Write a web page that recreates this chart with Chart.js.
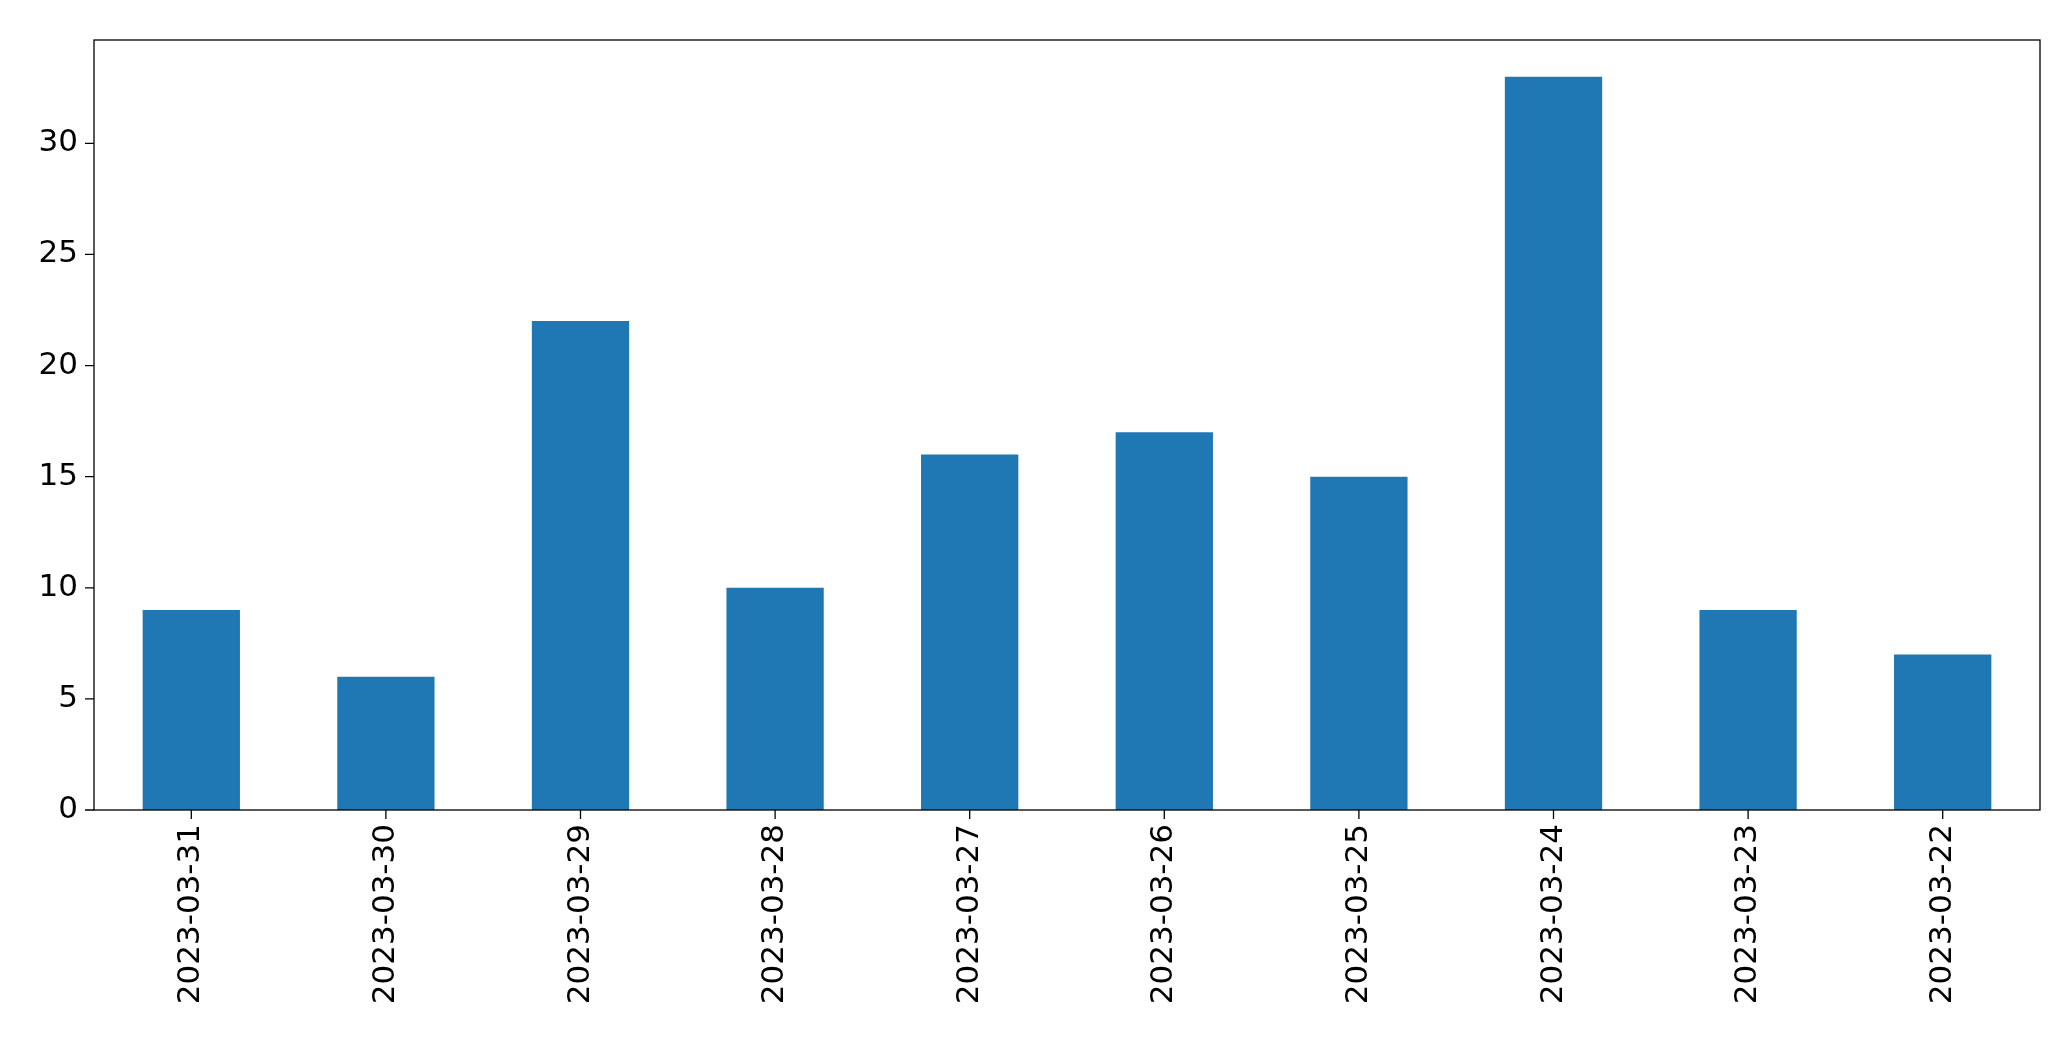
<!DOCTYPE html><html><head><script src="https://cdn.jsdelivr.net/npm/chart.js@4"></script>
<style>html,body{margin:0;background:#fff}#w{width:2071px;height:1061px}</style></head><body><div id="w"><canvas id="c"></canvas></div>
<script>
const categories=["2023-03-31","2023-03-30","2023-03-29","2023-03-28","2023-03-27","2023-03-26","2023-03-25","2023-03-24","2023-03-23","2023-03-22"];
const values=[9,6,22,10,16,17,15,33,9,7];
const yTicks=[0,5,10,15,20,25,30];
const border={id:'b',afterDraw(c){const a=c.chartArea,x=c.ctx;x.save();x.strokeStyle='#000';x.lineWidth=1.3;x.strokeRect(a.left,a.top,a.right-a.left,a.bottom-a.top);x.restore();}};
new Chart(document.getElementById('c'),{type:'bar',data:{labels:categories,datasets:[{data:values,backgroundColor:'#1f77b4',categoryPercentage:1,barPercentage:0.5}]},
options:{responsive:true,maintainAspectRatio:false,animation:false,layout:{padding:{top:40,right:31,left:0,bottom:0}},
plugins:{legend:{display:false},tooltip:{enabled:false}},
scales:{x:{grid:{display:false,drawTicks:true,tickLength:10,color:'#000'},border:{display:false},
ticks:{color:'#000',font:{family:'DejaVu Sans',size:31},maxRotation:90,minRotation:90,padding:4},afterFit(s){s.height=251;}},
y:{min:0,max:34.65,grid:{display:false,tickLength:10},border:{display:false},
afterBuildTicks(s){s.ticks=yTicks.map(v=>({value:v}));},
ticks:{color:'#000',font:{family:'DejaVu Sans',size:31},padding:6},afterFit(s){s.width=94;}}}},plugins:[border,{id:'t',afterDraw(c){const x=c.ctx,a=c.chartArea;x.save();x.strokeStyle='#000';x.lineWidth=1.3;x.beginPath();yTicks.forEach(v=>{const y=c.scales.y.getPixelForValue(v);x.moveTo(a.left-9,y);x.lineTo(a.left,y);});categories.forEach((_,i)=>{const px=c.scales.x.getPixelForValue(i);x.moveTo(px,a.bottom);x.lineTo(px,a.bottom+9);});x.stroke();x.restore();}}]});
</script></body></html>
